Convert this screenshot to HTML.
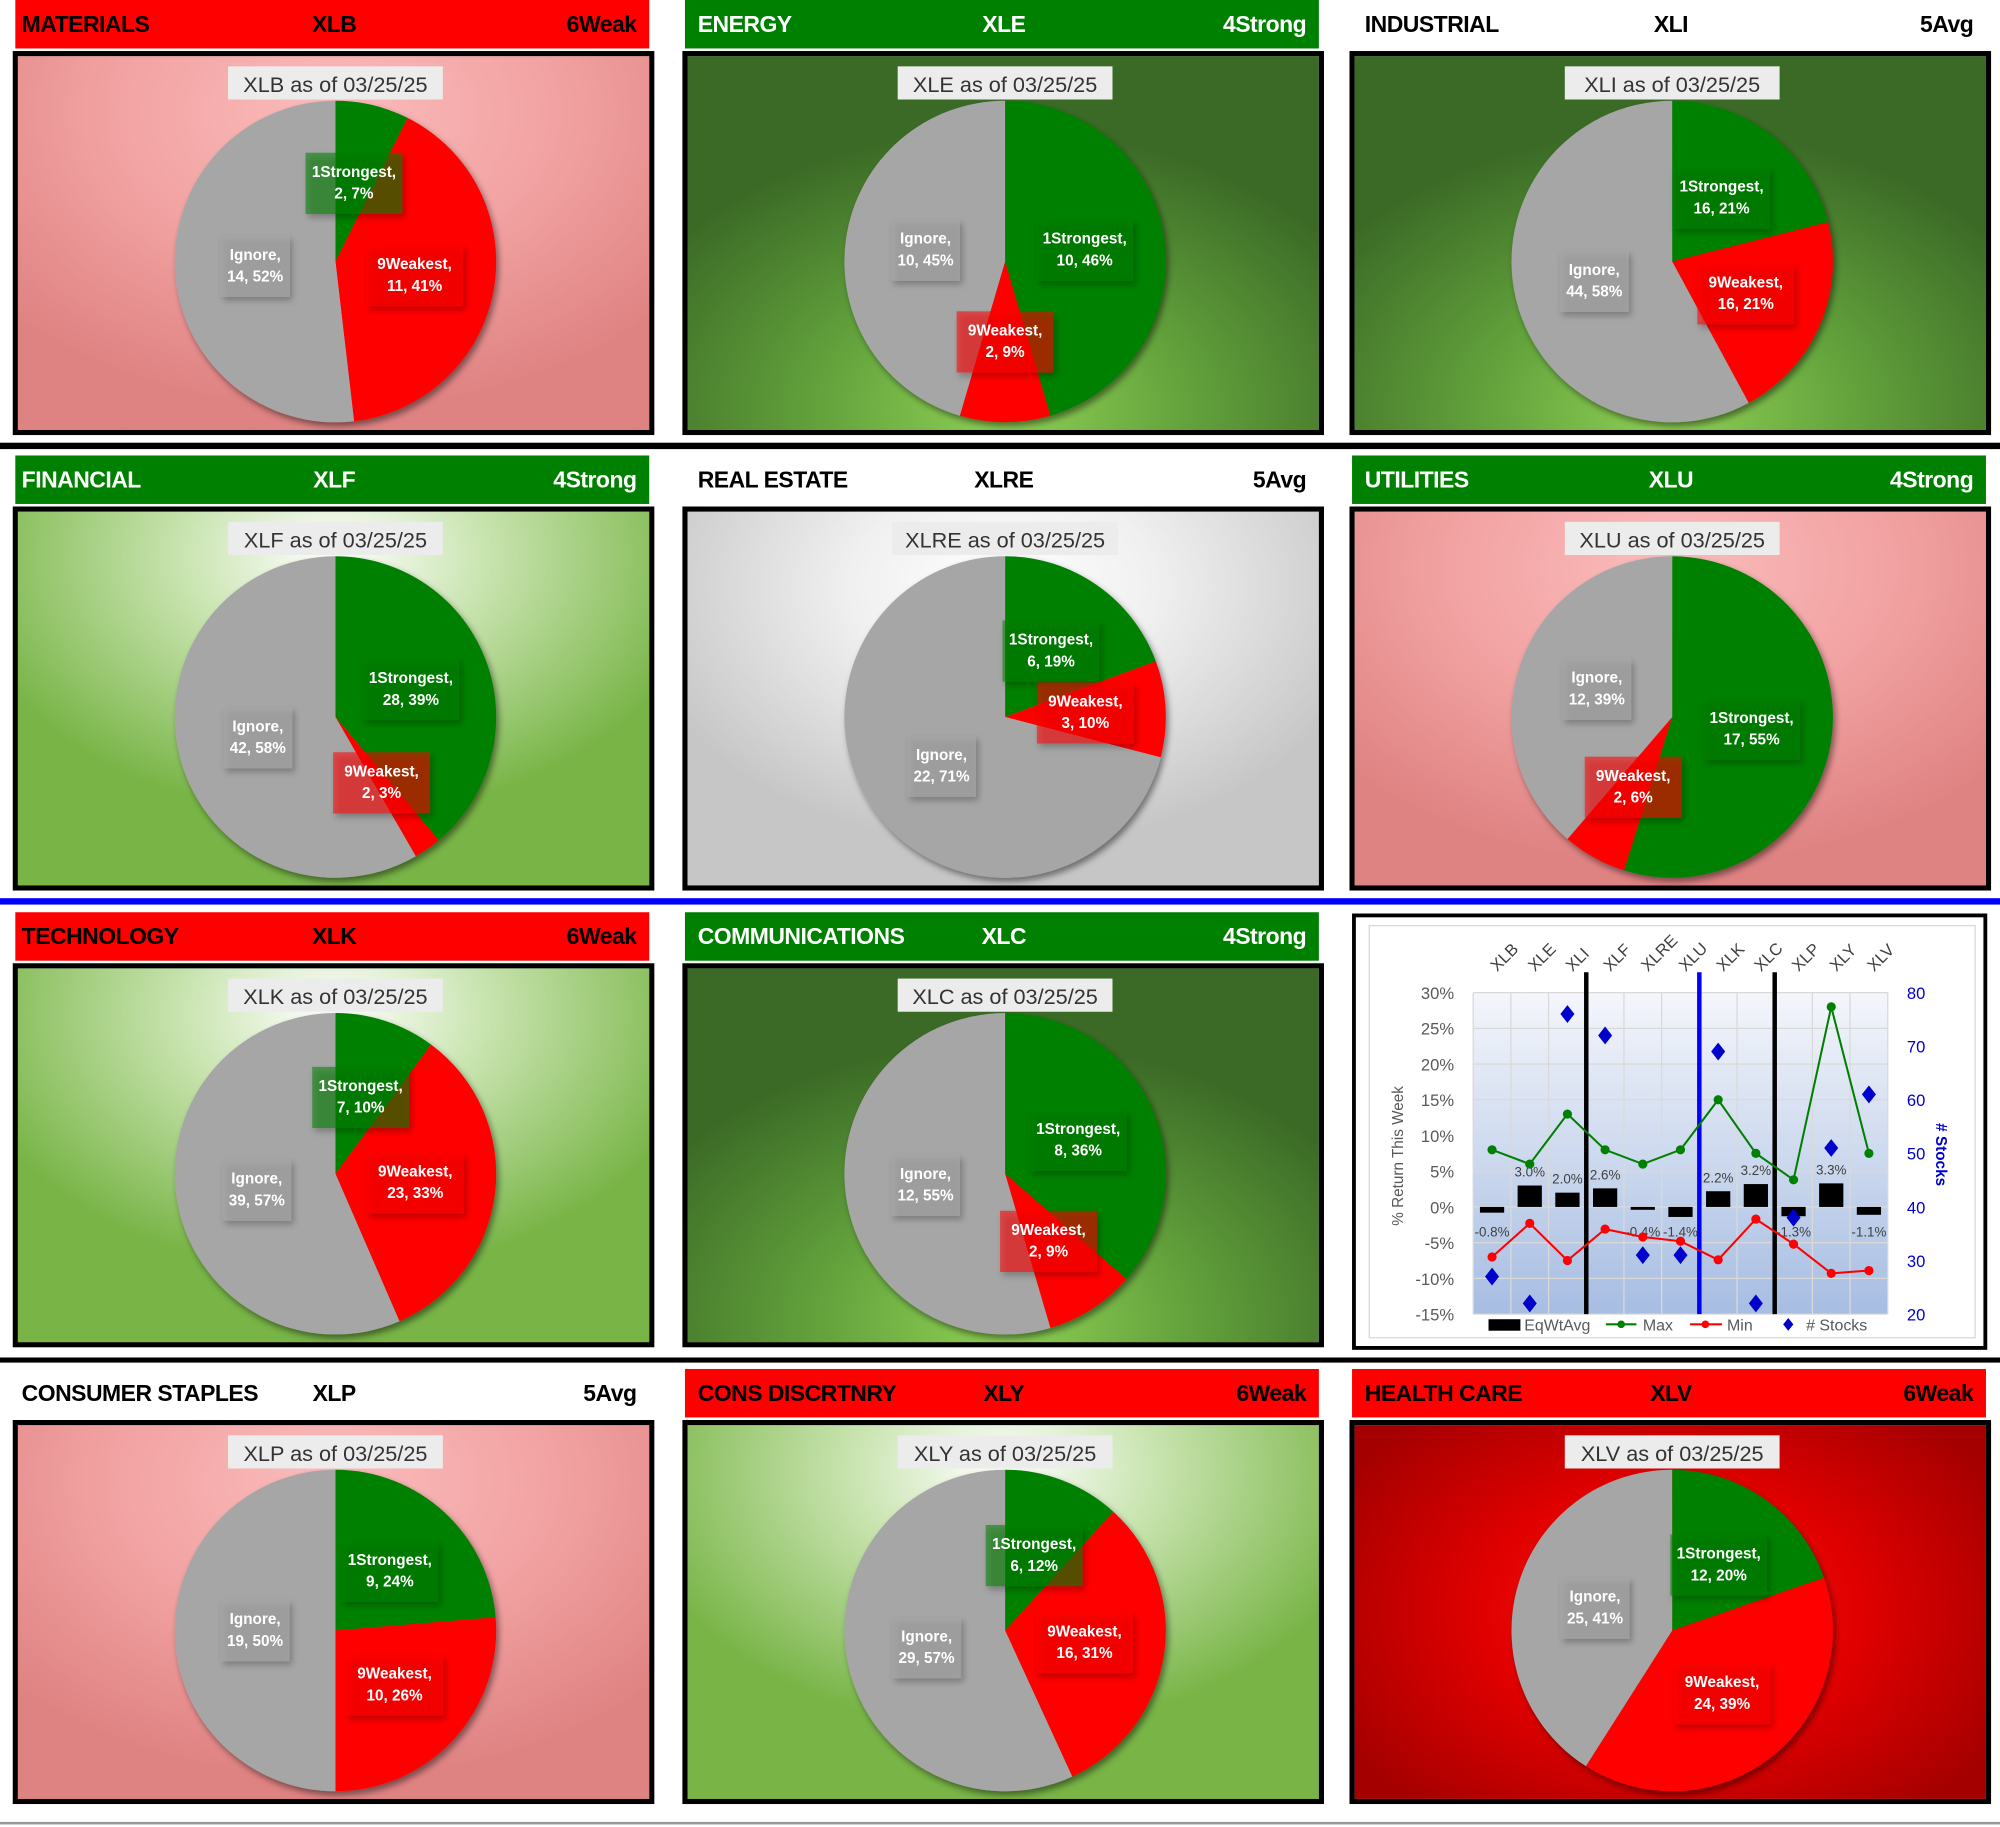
<!DOCTYPE html>
<html><head><meta charset="utf-8">
<style>
html,body{margin:0;padding:0;background:#fff;width:2000px;height:1827px;overflow:hidden}
#wrap{position:absolute;left:0;top:0;width:1568px;height:1432px;transform:scale(1.27551,1.27584);transform-origin:0 0;font-family:"Liberation Sans",sans-serif}
.hdr{position:absolute;height:38px;font-weight:bold;font-size:18px;line-height:38px;letter-spacing:-0.4px}
.hdr span{position:absolute;top:0}
.panel{position:absolute;width:495px;height:293px;border:4px solid #000;overflow:hidden}
.sep{position:absolute;left:0;width:1568px}
</style></head><body>
<div id="wrap">
<div class="sep" style="top:347px;height:5px;background:#000"></div>
<div class="sep" style="top:704px;height:5px;background:#0000ff"></div>
<div class="sep" style="top:1064px;height:4px;background:#000"></div>
<div class="sep" style="top:1428px;height:2px;background:#999"></div>

<div style="position:absolute;left:1060px;top:716px;width:492px;height:336px;border:3px solid #000;background:#fff">
<div style="position:absolute;left:10px;top:6px;width:474px;height:322px;border:1px solid #d9d9d9"></div>
</div>
<svg id="combo" style="position:absolute;left:0;top:0;pointer-events:none" width="1568" height="1432">
<defs><linearGradient id="plotg" x1="0" y1="0" x2="0" y2="1"><stop offset="0" stop-color="#f4f6fb"/><stop offset="1" stop-color="#a7bde2"/></linearGradient></defs>
</svg>
</div>
<script>
// ---- pie data ----
const names=["MATERIALS","ENERGY","INDUSTRIAL","FINANCIAL","REAL ESTATE","UTILITIES","TECHNOLOGY","COMMUNICATIONS","CONSUMER STAPLES","CONS DISCRTNRY","HEALTH CARE"];
const tickers=["XLB","XLE","XLI","XLF","XLRE","XLU","XLK","XLC","XLP","XLY","XLV"];
const ratings=["6Weak","4Strong","5Avg","4Strong","5Avg","4Strong","6Weak","4Strong","5Avg","6Weak","6Weak"];
const strongCounts=[2,10,16,28,6,17,7,8,9,6,12];
const weakCounts=[11,2,16,2,3,2,23,2,10,16,24];
const ignoreCounts=[14,10,44,42,22,12,39,12,19,29,25];
const strongPct=[7,46,21,39,19,55,10,36,24,12,20];
const weakPct=[41,9,21,3,10,6,33,9,26,31,39];
const ignorePct=[52,45,58,58,71,39,57,55,50,57,41];
const bgTypes=["pink","dkgreen","dkgreen","ltgreen","gray","pink","ltgreen","dkgreen","pink","ltgreen","dkred"];
const asOf="03/25/25";
// ---- combo chart data ----
const cats=["XLB","XLE","XLI","XLF","XLRE","XLU","XLK","XLC","XLP","XLY","XLV"];
const eqWtAvg=[-0.8,3.0,2.0,2.6,-0.4,-1.4,2.2,3.2,-1.3,3.3,-1.1];
const maxVals=[8,6,13,8,6,8,15,7.5,3.8,28,7.5];
const minVals=[-7,-2.3,-7.5,-3.1,-4.2,-4.8,-7.4,-1.7,-5.2,-9.3,-8.9];
const stockCounts=[27,22,76,72,31,31,69,22,38,51,61];
const leftTicks=[30,25,20,15,10,5,0,-5,-10,-15];
const rightTicks=[80,70,60,50,40,30,20];

const NS="http://www.w3.org/2000/svg";
const wrap=document.getElementById('wrap');
const combo=document.getElementById('combo');
const colX=[10,535,1058], rowY=[0,357,715,1073];
const bgs={
 pink:"radial-gradient(ellipse 70% 80% at 50% 15%,#fbbcbc 0%,#f2a2a2 50%,#df8282 100%)",
 dkgreen:"radial-gradient(ellipse 65% 75% at 50% 95%,#8fd055 0%,#63a23c 45%,#3b6a26 100%)",
 ltgreen:"radial-gradient(ellipse 60% 70% at 50% 12%,#ffffff 0%,#c9e4b0 40%,#78b446 100%)",
 gray:"radial-gradient(ellipse 60% 70% at 50% 20%,#ffffff 0%,#f0f0f0 40%,#c6c6c6 100%)",
 dkred:"radial-gradient(ellipse 60% 70% at 50% 50%,#ff1a1a 0%,#e00000 50%,#a40000 100%)"
};
function svgEl(t,a){const e=document.createElementNS(NS,t);for(const k in a)e.setAttribute(k,a[k]);return e;}
for(let i=0;i<11;i++){
  const slot=i<8?i:i+1;
  const c=slot%3, r=Math.floor(slot/3);
  const px=colX[c], py=rowY[r];
  const rat=ratings[i];
  const hdr=document.createElement('div');
  hdr.className='hdr';
  
  
  let bg='#fff',fg='#000';
  if(rat.indexOf('Strong')>=0){bg='#008000';fg='#fff';}
  else if(rat.indexOf('Weak')>=0){bg='#ff0000';fg='#000';}
  hdr.style.cssText=`left:${px+2}px;top:${py}px;width:497px;background:${bg};color:${fg}`;
  hdr.innerHTML=`<span style="left:${c==0?5:10}px">${names[i]}</span><span style="left:250px;transform:translateX(-50%)">${tickers[i]}</span><span style="right:10px">${rat}</span>`;
  wrap.insertBefore(hdr,combo);
  const pan=document.createElement('div');
  pan.className='panel';
  
  
  pan.style.cssText=`left:${px}px;top:${py+40}px;background:${bgs[bgTypes[i]]}`;
  wrap.insertBefore(pan,combo);
  const svg=svgEl('svg',{width:495,height:293,style:'position:absolute;left:0;top:0'});
  
  
  pan.appendChild(svg);
  const defs=svgEl('defs',{});
  defs.innerHTML=`<filter id="sh${i}" x="-20%" y="-20%" width="140%" height="140%"><feDropShadow dx="2" dy="3" stdDeviation="2.5" flood-opacity="0.45"/></filter>`;
  svg.appendChild(defs);
  const cx=249, cy=161, R=126;
  const vals=[strongCounts[i],weakCounts[i],ignoreCounts[i]];
  const pcts=[strongPct[i],weakPct[i],ignorePct[i]];
  const cols=['#008000','#ff0000','#a6a6a6'];
  const lbls=['1Strongest','9Weakest','Ignore'];
  const sn=['slice-strongest','slice-weakest','slice-ignore'];
  const tot=vals[0]+vals[1]+vals[2];
  const g=svgEl('g',{filter:`url(#sh${i})`});svg.appendChild(g);
  let a0=0;const mids=[];
  for(let k=0;k<3;k++){
    const a1=a0+vals[k]/tot*2*Math.PI;
    const x0=cx+R*Math.sin(a0),y0=cy-R*Math.cos(a0),x1=cx+R*Math.sin(a1),y1=cy-R*Math.cos(a1);
    const large=(a1-a0)>Math.PI?1:0;
    const p=svgEl('path',{d:`M${cx},${cy}L${x0},${y0}A${R},${R} 0 ${large} 1 ${x1},${y1}Z`,fill:cols[k]});
    
    
    g.appendChild(p);
    mids.push((a0+a1)/2);a0=a1;
  }
  for(let k=0;k<3;k++){
    const lx=cx+R*0.5*Math.sin(mids[k]), ly=cy-R*0.5*Math.cos(mids[k]);
    const lg=svgEl('g',{});
    
    
    const bw=lbls[k]=='Ignore'?54:76;
    lg.appendChild(svgEl('rect',{x:lx-bw/2,y:ly-24,width:bw,height:48,fill:cols[k],'fill-opacity':0.55,filter:`url(#sh${i})`}));
    const t1=svgEl('text',{x:lx,y:ly-5,'text-anchor':'middle','font-size':12,'font-weight':'bold',fill:'#fff'});t1.textContent=lbls[k]+',';
    const t2=svgEl('text',{x:lx,y:ly+12,'text-anchor':'middle','font-size':12,'font-weight':'bold',fill:'#fff'});t2.textContent=vals[k]+', '+pcts[k]+'%';
    lg.appendChild(t1);lg.appendChild(t2);svg.appendChild(lg);
  }
  const tg=svgEl('g',{});
  
  
  const title=tickers[i]+' as of '+asOf;
  const tw=title.length*8.8+10;
  tg.appendChild(svgEl('rect',{x:cx-tw/2,y:8,width:tw,height:26,fill:'#ececec'}));
  const tt=svgEl('text',{x:cx,y:28,'text-anchor':'middle','font-size':17,fill:'#333'});tt.textContent=title;
  tg.appendChild(tt);svg.appendChild(tg);
}
// ---- combo chart ----
const cs=combo;
const L=1155,Rr=1480,T=778,B=1030,N=cats.length,cw=(Rr-L)/N;
const X=i=>L+cw*(i+0.5);
const Y=v=>B-(v+15)/45*(B-T);
const Y2=s=>B-(s-20)/60*(B-T);
cs.appendChild(svgEl('rect',{x:L,y:T,width:Rr-L,height:B-T,fill:'url(#plotg)'}));
for(const v of leftTicks){
  cs.appendChild(svgEl('line',{x1:L,x2:Rr,y1:Y(v),y2:Y(v),stroke:'#d9d9d9','stroke-width':1}));
  const t=svgEl('text',{x:1140,y:Y(v)+5,'text-anchor':'end','font-size':13,fill:'#595959'});t.textContent=v+'%';
  
  
  cs.appendChild(t);
}
for(let i=0;i<=N;i++)cs.appendChild(svgEl('line',{x1:L+cw*i,x2:L+cw*i,y1:T,y2:B,stroke:'#d9d9d9','stroke-width':1}));
for(const s of rightTicks){
  const t=svgEl('text',{x:1495,y:Y2(s)+5,'font-size':13,fill:'#0000cc'});t.textContent=s;
  
  
  cs.appendChild(t);
}
cats.forEach((c,i)=>{
  const t=svgEl('text',{x:X(i)+4,y:762,'font-size':13,fill:'#404040',transform:`rotate(-45 ${X(i)+4} 762)`});t.textContent=c;
  
  
  cs.appendChild(t);
});
const yt=svgEl('text',{x:1100,y:906,'text-anchor':'middle','font-size':12,fill:'#595959',transform:'rotate(-90 1100 906)'});yt.textContent='% Return This Week';
cs.appendChild(yt);
const yt2=svgEl('text',{x:1518,y:905,'text-anchor':'middle','font-size':12,'font-weight':'bold',fill:'#0000cc',transform:'rotate(90 1518 905)'});yt2.textContent='# Stocks';
cs.appendChild(yt2);
eqWtAvg.forEach((v,i)=>{
  const y0=Y(0),y1=Y(v);
  const b=svgEl('rect',{x:X(i)-9.5,y:Math.min(y0,y1),width:19,height:Math.max(2,Math.abs(y1-y0)),fill:'#000'});
  
  
  cs.appendChild(b);
  const t=svgEl('text',{x:X(i),y:v>=0?y1-7:y0+23,'text-anchor':'middle','font-size':10.5,fill:'#404040'});t.textContent=v.toFixed(1)+'%';
  
  
  cs.appendChild(t);
});
[[3,'#000'],[6,'#0000ff'],[8,'#000']].forEach(([k,col])=>{
  const l=svgEl('line',{x1:L+cw*k,x2:L+cw*k,y1:762,y2:B,stroke:col,'stroke-width':3.5});
  
  
  cs.appendChild(l);
});
function series(vals,col,name){
  const pl=svgEl('polyline',{points:vals.map((v,i)=>X(i)+','+Y(v)).join(' '),fill:'none',stroke:col,'stroke-width':1.6});
  
  
  cs.appendChild(pl);
  vals.forEach((v,i)=>{const c=svgEl('circle',{cx:X(i),cy:Y(v),r:3.6,fill:col});
    
    
    cs.appendChild(c);});
}
series(maxVals,'#008000','max');
series(minVals,'#ff0000','min');
stockCounts.forEach((s,i)=>{
  const x=X(i),y=Y2(s);
  const d=svgEl('polygon',{points:`${x},${y-7} ${x+5.5},${y} ${x},${y+7} ${x-5.5},${y}`,fill:'#0000cc'});
  
  
  cs.appendChild(d);
});
const lg=svgEl('g',{});


lg.innerHTML=`<rect x="1167" y="1034" width="25" height="9" fill="#000"/><text x="1195" y="1043" font-size="12.5" fill="#595959">EqWtAvg</text>
<line x1="1259" y1="1038" x2="1283" y2="1038" stroke="#008000" stroke-width="1.6"/><circle cx="1271" cy="1038" r="3" fill="#008000"/><text x="1288" y="1043" font-size="12.5" fill="#595959">Max</text>
<line x1="1325" y1="1038" x2="1350" y2="1038" stroke="#ff0000" stroke-width="1.6"/><circle cx="1337" cy="1038" r="3" fill="#ff0000"/><text x="1354" y="1043" font-size="12.5" fill="#595959">Min</text>
<polygon points="1402,1033 1406,1038 1402,1043 1398,1038" fill="#0000cc"/><text x="1416" y="1043" font-size="12.5" fill="#595959"># Stocks</text>`;
cs.appendChild(lg);
</script>
</body></html>
